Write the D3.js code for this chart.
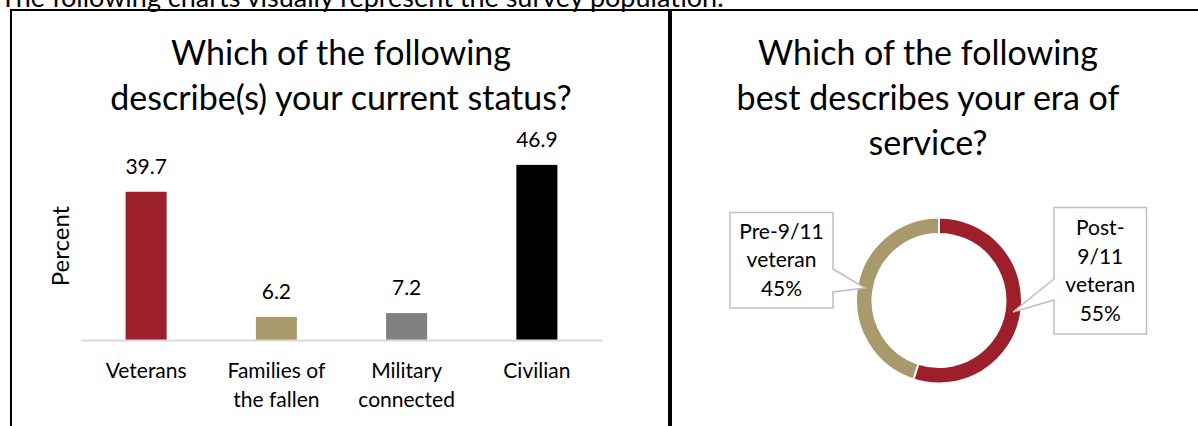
<!DOCTYPE html>
<html>
<head>
<meta charset="utf-8">
<script src="https://cdn.jsdelivr.net/npm/d3@7/dist/d3.min.js"></script>
<style>
  html, body { margin: 0; padding: 0; background: #fff; }
  svg { display: block; font-family: Lato, "Open Sans", sans-serif; }
</style>
</head>
<body>
<svg id="chart"></svg>
<script>
const WIDTH = 1198;
const HEIGHT = 426;

// bar chart data
const statusCategories = ["Veterans", "Families of the fallen", "Military connected", "Civilian"];
const statusLabelLines = [["Veterans"], ["Families of", "the fallen"], ["Military", "connected"], ["Civilian"]];
const statusValues = [39.7, 6.2, 7.2, 46.9];

// donut data
const eraCategories = ["Post-9/11 veteran", "Pre-9/11 veteran"];
const eraLabelLines = [["Post-", "9/11", "veteran", "55%"], ["Pre-9/11", "veteran", "45%"]];
const eraValues = [55, 45];

const statusColors = ["#9e1f2c", "#a99a6e", "#808080", "#000000"];
const eraColors = ["#9e1f2c", "#a99a6e"];

const LABEL_SIZE = 21;
const TITLE_SIZE = 34;

const svg = d3.select("#chart").attr("width", WIDTH).attr("height", HEIGHT);

// page text, cut at the top like in the source
svg.append("text")
    .attr("x", 0).attr("y", 7)
    .attr("font-size", 27)
    .text("The following charts visually represent the survey population.");

// frame lines
svg.append("line").attr("x1", 10).attr("x2", WIDTH).attr("y1", 10).attr("y2", 10)
    .attr("stroke", "#000").attr("stroke-width", 2);
svg.append("line").attr("x1", 11).attr("x2", 11).attr("y1", 9).attr("y2", HEIGHT)
    .attr("stroke", "#000").attr("stroke-width", 2);
svg.append("line").attr("x1", 670).attr("x2", 670).attr("y1", 9).attr("y2", HEIGHT)
    .attr("stroke", "#000").attr("stroke-width", 4);

// ---------- left: bar chart ----------
const left = svg.append("g");

left.append("text")
    .attr("text-anchor", "middle")
    .attr("font-size", TITLE_SIZE)
    .selectAll("tspan")
    .data(["Which of the following", "describe(s) your current status?"])
    .join("tspan")
    .attr("x", 341)
    .attr("y", (d, i) => 65 + i * 45)
    .text(d => d);

const x = d3.scaleBand()
    .domain(statusCategories)
    .range([81, 602])
    .paddingInner(0.685)
    .paddingOuter(0.3425);

const y = d3.scaleLinear()
    .domain([0, 50])
    .range([340, 153.3]);

left.selectAll("rect.bar")
    .data(statusValues)
    .join("rect")
    .attr("class", "bar")
    .attr("x", (d, i) => x(statusCategories[i]))
    .attr("width", x.bandwidth())
    .attr("y", d => y(d))
    .attr("height", d => y(0) - y(d))
    .attr("fill", (d, i) => statusColors[i]);

left.selectAll("text.val")
    .data(statusValues)
    .join("text")
    .attr("class", "val")
    .attr("text-anchor", "middle")
    .attr("font-size", LABEL_SIZE)
    .attr("x", (d, i) => x(statusCategories[i]) + x.bandwidth() / 2)
    .attr("y", d => y(d) - 18)
    .text(d => d.toFixed(1));

const xAxis = left.append("g")
    .attr("transform", "translate(0," + y(0) + ")")
    .call(d3.axisBottom(x).tickSize(0).tickSizeOuter(0).tickFormat(""));
xAxis.select(".domain").attr("stroke", "#d9d9d9").attr("stroke-width", 2);
xAxis.selectAll(".tick text").remove();
xAxis.selectAll(".tick")
    .append("text")
    .attr("fill", "#000")
    .attr("font-size", LABEL_SIZE)
    .attr("font-family", "Lato, sans-serif")
    .attr("text-anchor", "middle")
    .selectAll("tspan")
    .data(d => statusLabelLines[statusCategories.indexOf(d)])
    .join("tspan")
    .attr("x", 0)
    .attr("y", (d, i) => 38 + i * 29)
    .text(d => d);

left.append("text")
    .attr("transform", "translate(69,246) rotate(-90)")
    .attr("text-anchor", "middle")
    .attr("font-size", 24)
    .text("Percent");

// ---------- right: donut ----------
const right = svg.append("g");

right.append("text")
    .attr("text-anchor", "middle")
    .attr("font-size", TITLE_SIZE)
    .selectAll("tspan")
    .data(["Which of the following", "best describes your era of", "service?"])
    .join("tspan")
    .attr("x", 928)
    .attr("y", (d, i) => 65 + i * 45)
    .text(d => d);

const cx = 939, cy = 300.5;
const pie = d3.pie().sort(null)(eraValues);
const arc = d3.arc().innerRadius(66.5).outerRadius(83);

right.append("g")
    .attr("transform", "translate(" + cx + "," + cy + ")")
    .selectAll("path")
    .data(pie)
    .join("path")
    .attr("d", arc)
    .attr("fill", (d, i) => eraColors[i])
    .attr("stroke", "#fff")
    .attr("stroke-width", 2);

// callout boxes with a wedge pointing at the ring
const callouts = [
    { box: [1054, 207.5, 1146.5, 334], side: "left", p: [279, 300], tip: [1013, 312] },
    { box: [730, 212.5, 833, 308], side: "right", p: [269, 292], tip: [865, 288] }
];

function calloutPath(c) {
    const [x0, y0, x1, y1] = c.box;
    const p = d3.path();
    if (c.side === "right") {
        p.moveTo(x0, y0); p.lineTo(x1, y0); p.lineTo(x1, c.p[0]);
        p.lineTo(c.tip[0], c.tip[1]); p.lineTo(x1, c.p[1]);
        p.lineTo(x1, y1); p.lineTo(x0, y1); p.closePath();
    } else {
        p.moveTo(x0, y0); p.lineTo(x1, y0); p.lineTo(x1, y1); p.lineTo(x0, y1);
        p.lineTo(x0, c.p[1]); p.lineTo(c.tip[0], c.tip[1]); p.lineTo(x0, c.p[0]);
        p.closePath();
    }
    return p.toString();
}

callouts.forEach((c, i) => {
    right.append("path")
        .attr("d", calloutPath(c))
        .attr("fill", "#fff")
        .attr("stroke", "#bfbfbf")
        .attr("stroke-width", 1.5);
    const lines = eraLabelLines[i];
    const midX = (c.box[0] + c.box[2]) / 2;
    const midY = (c.box[1] + c.box[3]) / 2;
    const lh = 28.5;
    right.append("text")
        .attr("text-anchor", "middle")
        .attr("font-size", LABEL_SIZE)
        .selectAll("tspan")
        .data(lines)
        .join("tspan")
        .attr("x", midX)
        .attr("y", (d, j) => midY + (j - (lines.length - 1) / 2) * lh + 7)
        .text(d => d);
});
</script>
</body>
</html>
